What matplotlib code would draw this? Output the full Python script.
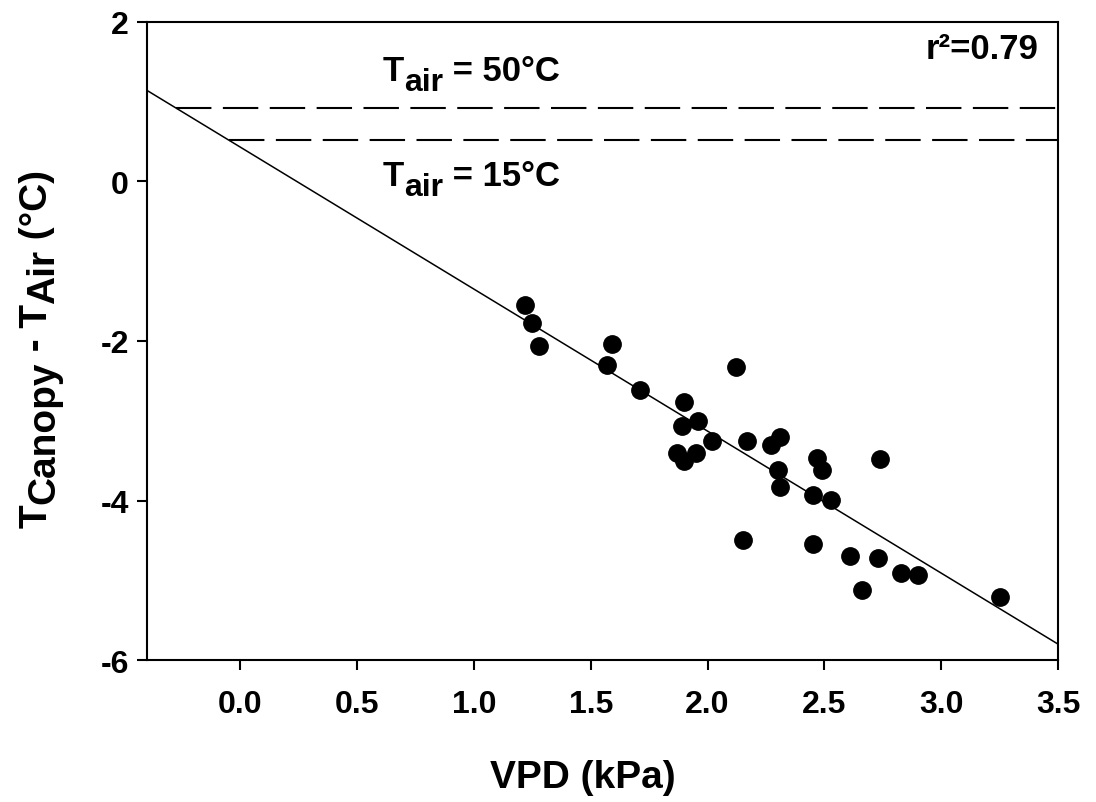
import matplotlib
matplotlib.use('Agg')
import matplotlib.pyplot as plt
import numpy as np

# Canopy-air temperature difference vs VPD
vpd = [1.22, 1.25, 1.28, 1.59, 1.57, 1.71, 2.12, 1.90, 1.96, 1.89,
       2.02, 2.17, 1.87, 1.95, 1.90, 2.31, 2.27, 2.30, 2.31, 2.47,
       2.49, 2.74, 2.45, 2.53, 2.15, 2.45, 2.61, 2.73, 2.83, 2.90,
       2.66, 3.25]
dt = [-1.55, -1.77, -2.06, -2.04, -2.30, -2.62, -2.33, -2.76, -3.00, -3.06,
      -3.26, -3.25, -3.40, -3.40, -3.50, -3.20, -3.30, -3.62, -3.83, -3.47,
      -3.62, -3.48, -3.93, -3.99, -4.50, -4.54, -4.70, -4.72, -4.91, -4.93,
      -5.12, -5.21]

# regression and non-water-stressed baselines
slope = -1.78
intercept = 0.43
r2_label = "r\u00b2=0.79"
baselines = [0.92, 0.52]
baseline_labels = ["50\u00b0C", "15\u00b0C"]

x_ticks = [0.0, 0.5, 1.0, 1.5, 2.0, 2.5, 3.0, 3.5]
y_ticks = [2, 0, -2, -4, -6]

plt.rcParams['font.family'] = ['Liberation Sans', 'DejaVu Sans']
plt.rcParams['font.weight'] = 'bold'

fig = plt.figure(figsize=(10.96, 8.03), dpi=100)
ax = fig.add_axes([0.1341, 0.1768, 0.8312, 0.7946])

xmin, xmax = -0.4, 3.5
ax.set_xlim(xmin, xmax)
ax.set_ylim(-6, 2)

# fitted line across the whole axis
xl = np.array([xmin, xmax])
ax.plot(xl, slope * xl + intercept, color='black', lw=1.1, zorder=2)

# dashed baselines start where they meet the fit
for yb in baselines:
    x0 = (yb - intercept) / slope
    ax.plot([x0, xmax], [yb, yb], color='black', lw=1.5,
            dashes=(17, 5.5), zorder=2)

ax.plot(vpd, dt, 'o', color='black', markersize=12.5, zorder=3)

ax.set_xticks(x_ticks)
ax.set_xticklabels([f"{v:.1f}" for v in x_ticks])
ax.set_yticks(y_ticks)
ax.set_yticklabels([str(v) for v in y_ticks])
ax.tick_params(axis='x', direction='out', length=7, width=1.5, labelsize=23, pad=14)
ax.tick_params(axis='y', direction='out', length=7, width=1.5, labelsize=23, pad=6)
for lab in ax.get_xticklabels() + ax.get_yticklabels():
    lab.set_fontweight('bold')
for sp in ax.spines.values():
    sp.set_linewidth(1.5)

# T_air annotations (subscript chained after the T)
y_text = [1.27, -0.05]
for yt, lab in zip(y_text, baseline_labels):
    t = ax.text(0.61, yt, "T", fontsize=25, fontweight='bold', ha='left', va='baseline')
    s = ax.annotate("air", xy=(1, 0), xycoords=t, xytext=(0, -7),
                    textcoords='offset points', ha='left', va='bottom',
                    fontsize=23, fontweight='bold')
    ax.annotate(" = " + lab, xy=(1, 0), xycoords=s, xytext=(0, 7),
                textcoords='offset points', ha='left', va='bottom',
                fontsize=25, fontweight='bold')

ax.text(3.415, 1.55, r2_label, fontsize=25, fontweight='bold', ha='right', va='baseline')

# x label
fig.text(583 / 1096, 1 - 788 / 803, "VPD (kPa)", fontsize=28, fontweight='bold',
         ha='center', va='baseline')

# y label: T_Canopy - T_Air (°C), built from pieces
prev = fig.text(55 / 1096, 1 - 528 / 803, "T", fontsize=28, fontweight='bold',
                rotation=90, ha='right', va='bottom')
y_pieces = [("Canopy", True), (" - T", False), ("Air", True), (" (\u00b0C)", False)]
shift = 0
for txt, is_sub in y_pieces:
    new_shift = 5 if is_sub else 0
    prev = ax.annotate(txt, xy=(1, 1), xycoords=prev, xytext=(new_shift - shift, 0),
                       textcoords='offset points', ha='right', va='bottom',
                       fontsize=28, fontweight='bold', rotation=90,
                       annotation_clip=False)
    shift = new_shift

fig.savefig("out.png", dpi=100)
